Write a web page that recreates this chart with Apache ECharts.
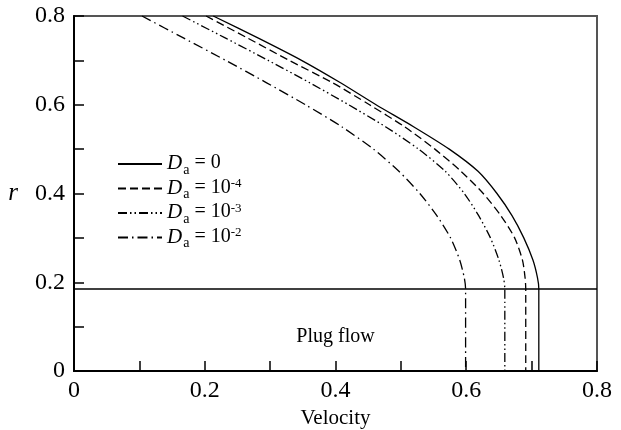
<!DOCTYPE html>
<html>
<head>
<meta charset="utf-8">
<script src="https://cdn.jsdelivr.net/npm/echarts@6/dist/echarts.min.js"></script>
<style>
html,body{margin:0;padding:0;background:#fff;}
#chart{width:621px;height:430px;}
</style>
</head>
<body>
<div id="chart"></div>
<script>
// ---- data ----
const seriesNames = ['Da0', 'Da1e-4', 'Da1e-3', 'Da1e-2'];

// radius levels shared by all curves (plug boundary at 0.185, then vertical to 0)
const rLevels = [0.8, 0.75, 0.7, 0.65, 0.6, 0.55, 0.5, 0.45, 0.4, 0.35, 0.3, 0.25, 0.21, 0.185, 0];

// D_a = 0 (solid)
const vD0 = [0.213, 0.282, 0.348, 0.407, 0.462, 0.520, 0.574, 0.618, 0.647, 0.670, 0.688, 0.702, 0.709, 0.711, 0.711];
// D_a = 1e-4 (dashed)
const vD4 = [0.202, 0.266, 0.329, 0.395, 0.452, 0.506, 0.552, 0.592, 0.626, 0.653, 0.674, 0.686, 0.690, 0.691, 0.691];
// D_a = 1e-3 (dash-dot-dot)
const vD3 = [0.166, 0.232, 0.297, 0.360, 0.420, 0.477, 0.527, 0.568, 0.597, 0.619, 0.637, 0.650, 0.657, 0.659, 0.659];
// D_a = 1e-2 (dash-dot)
const vD2 = [0.104, 0.168, 0.232, 0.294, 0.354, 0.410, 0.458, 0.497, 0.529, 0.555, 0.576, 0.590, 0.597, 0.599, 0.599];

// plug-flow boundary
const plugR = 0.185;
const plugV = [0, 0.8];
const plugLabelPos = [0.40, 0.077];

// axis tick labels
const xTicks = [0, 0.2, 0.4, 0.6, 0.8];
const yTicks = [0, 0.2, 0.4, 0.6, 0.8];

const legendLabels = {
  'Da0': '{d|D}{s|a}{t| = 0}',
  'Da1e-4': '{d|D}{s|a}{t| = 10}{p|-4}',
  'Da1e-3': '{d|D}{s|a}{t| = 10}{p|-3}',
  'Da1e-2': '{d|D}{s|a}{t| = 10}{p|-2}'
};

// ---- chart ----
const FONT = "'Liberation Serif', 'Times New Roman', serif";
const pair = (v) => v.map((x, i) => [x, rLevels[i]]);
const chart = echarts.init(document.getElementById('chart'), null, {renderer: 'canvas'});

function fmt(val, ticks) {
  for (const t of ticks) {
    if (Math.abs(val - t) < 1e-6) return t === 0 ? '0' : t.toFixed(1);
  }
  return '';
}

function curve(name, v, type) {
  return {
    name: name, type: 'line', data: pair(v),
    symbol: 'none', smooth: 0.25, silent: true,
    lineStyle: {color: '#000', width: 1.3, type: type},
    itemStyle: {color: '#000'},
    z: 3
  };
}

const option = {
  animation: false,
  backgroundColor: '#fff',
  grid: {left: 74, right: 24, top: 16, bottom: 59, containLabel: false, outerBoundsMode: 'none',
         show: true, borderColor: '#555', borderWidth: 2, backgroundColor: 'transparent'},
  legend: {
    orient: 'vertical', left: 117, top: 153, padding: 0,
    itemWidth: 44, itemHeight: 14, itemGap: 0.5,
    data: seriesNames,
    itemStyle: {opacity: 0},
    formatter: n => legendLabels[n],
    textStyle: {
      fontFamily: FONT, color: '#000', fontSize: 20,
      rich: {
        d: {fontFamily: FONT, fontSize: 21, fontStyle: 'italic', color: '#000', lineHeight: 22, verticalAlign: 'top'},
        s: {fontFamily: FONT, fontSize: 14, color: '#000', lineHeight: 14, padding: [10, 0, 0, 1], verticalAlign: 'top'},
        t: {fontFamily: FONT, fontSize: 20, color: '#000', lineHeight: 22, verticalAlign: 'top'},
        p: {fontFamily: FONT, fontSize: 13, color: '#000', lineHeight: 13, verticalAlign: 'top'}
      }
    }
  },
  xAxis: {
    type: 'value', min: 0, max: 0.8, interval: 0.1,
    name: 'Velocity', nameLocation: 'middle', nameGap: 36,
    nameTextStyle: {fontFamily: FONT, fontSize: 21, color: '#000'},
    axisLine: {show: true, lineStyle: {color: '#000', width: 2}},
    axisTick: {show: true, inside: true, length: 10, lineStyle: {color: '#000', width: 1.5}},
    axisLabel: {formatter: v => fmt(v, xTicks), fontFamily: FONT, fontSize: 24, color: '#000', margin: 8},
    splitLine: {show: false}
  },
  yAxis: {
    type: 'value', min: 0, max: 0.8, interval: 0.1,
    name: 'r', nameLocation: 'middle', nameRotate: 0, nameGap: 56,
    nameTextStyle: {fontFamily: FONT, fontSize: 25, fontStyle: 'italic', color: '#000'},
    axisLine: {show: true, lineStyle: {color: '#000', width: 2}},
    axisTick: {show: true, inside: true, length: 10, lineStyle: {color: '#000', width: 1.5}},
    axisLabel: {formatter: v => fmt(v, yTicks), fontFamily: FONT, fontSize: 24, color: '#000', margin: 9},
    splitLine: {show: false}
  },
  series: [
    curve('Da0', vD0, 'solid'),
    curve('Da1e-4', vD4, [8, 4]),
    curve('Da1e-3', vD3, [9, 3, 1.5, 3, 1.5, 3]),
    curve('Da1e-2', vD2, [10, 4, 1.5, 4]),
    {
      name: 'plug', type: 'line', data: plugV.map(v => [v, plugR]),
      symbol: 'none', silent: true,
      lineStyle: {color: '#000', width: 1.5}, z: 2
    },
    {
      name: 'plugLabel', type: 'scatter', data: [plugLabelPos],
      symbolSize: 0, silent: true,
      itemStyle: {opacity: 1, color: '#000'},
      label: {show: true, position: 'inside', formatter: 'Plug flow', fontFamily: FONT, fontSize: 20, color: '#000', opacity: 1}
    }
  ]
};
chart.setOption(option);
</script>
</body>
</html>
